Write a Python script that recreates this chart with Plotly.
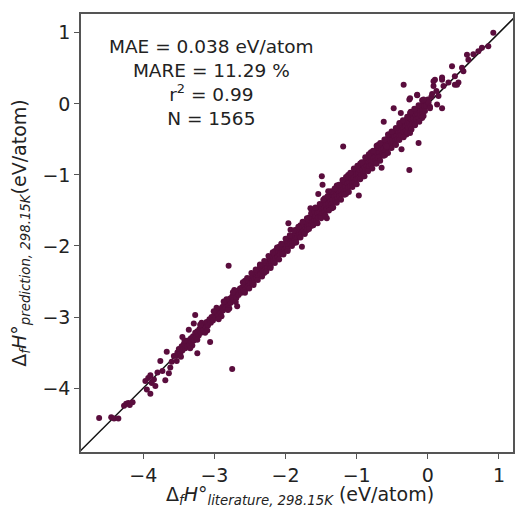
import plotly.graph_objects as go

# (literature, prediction) pairs in eV/atom
pts_low_tail = [(-4.62, -4.42), (-4.45, -4.41), (-4.41, -4.43), (-4.35, -4.43), (-4.27, -4.25),
                (-4.24, -4.22), (-4.21, -4.21), (-4.19, -4.24), (-4.15, -4.20),
                (-3.97, -3.90), (-3.95, -4.02), (-3.93, -3.86), (-3.90, -3.82), (-3.90, -4.08),
                (-3.88, -3.93), (-3.85, -3.88), (-3.83, -3.97), (-3.80, -3.78), (-3.76, -3.62),
                (-3.73, -3.76), (-3.69, -3.89), (-3.67, -3.49), (-3.64, -3.79), (-3.62, -3.71),
                (-3.60, -3.63), (-3.57, -3.55), (-3.53, -3.62), (-3.53, -3.54)]

pts_lower_band = [(-3.52, -3.50), (-3.50, -3.45), (-3.48, -3.52), (-3.46, -3.41), (-3.45, -3.47),
                  (-3.43, -3.38), (-3.41, -3.44), (-3.40, -3.36), (-3.38, -3.41), (-3.37, -3.33),
                  (-3.35, -3.39), (-3.33, -3.30), (-3.32, -3.35), (-3.30, -3.27), (-3.29, -3.33),
                  (-3.27, -3.22), (-3.26, -3.29), (-3.24, -3.20), (-3.22, -3.26), (-3.21, -3.17),
                  (-3.19, -3.22), (-3.17, -3.13), (-3.16, -3.19), (-3.14, -3.10), (-3.12, -3.15),
                  (-3.11, -3.07), (-3.09, -3.12), (-3.07, -3.03), (-3.05, -3.08), (-3.04, -3.00),
                  (-3.02, -3.05), (-3.00, -2.97), (-2.98, -3.01), (-2.96, -2.92), (-2.95, -2.98),
                  (-2.93, -2.89), (-2.91, -2.94), (-2.89, -2.86), (-2.88, -2.91), (-2.86, -2.82),
                  (-2.84, -2.87), (-2.82, -2.79), (-2.80, -2.84), (-2.78, -2.74), (-2.77, -2.80),
                  (-2.75, -2.71), (-2.73, -2.76), (-2.71, -2.67), (-2.69, -2.73), (-2.67, -2.63),
                  (-2.66, -2.69), (-3.47, -3.56), (-3.31, -3.40), (-3.18, -3.08), (-3.10, -3.19),
                  (-2.97, -2.87), (-2.90, -2.99), (-2.83, -2.75), (-2.72, -2.62), (-2.79, -2.88),
                  (-3.45, -3.28), (-3.36, -3.18), (-3.29, -3.09), (-3.27, -2.97), (-3.24, -3.32),
                  (-3.24, -3.51), (-3.06, -3.35), (-2.68, -2.85),
                  (-3.42, -3.33), (-3.34, -3.44), (-3.20, -3.11), (-3.13, -3.22), (-3.01, -2.92),
                  (-2.94, -3.03), (-2.87, -2.78), (-2.81, -2.90), (-2.74, -2.65), (-2.70, -2.79)]

pts_mid_band = [(-2.64, -2.60), (-2.62, -2.66), (-2.61, -2.58), (-2.59, -2.63), (-2.58, -2.55),
                (-2.56, -2.61), (-2.55, -2.50), (-2.53, -2.57), (-2.52, -2.49), (-2.50, -2.54),
                (-2.49, -2.45), (-2.47, -2.52), (-2.46, -2.43), (-2.44, -2.48), (-2.43, -2.39),
                (-2.41, -2.46), (-2.40, -2.37), (-2.38, -2.42), (-2.37, -2.33), (-2.35, -2.40),
                (-2.34, -2.31), (-2.32, -2.36), (-2.31, -2.27), (-2.29, -2.33), (-2.28, -2.24),
                (-2.26, -2.31), (-2.25, -2.21), (-2.23, -2.28), (-2.22, -2.18), (-2.20, -2.24),
                (-2.19, -2.15), (-2.17, -2.22), (-2.16, -2.12), (-2.14, -2.18), (-2.13, -2.09),
                (-2.11, -2.16), (-2.10, -2.06), (-2.08, -2.12), (-2.07, -2.03), (-2.05, -2.10),
                (-2.04, -2.00), (-2.02, -2.06), (-2.01, -1.97), (-1.99, -2.04), (-1.98, -1.93),
                (-1.96, -2.00), (-1.95, -1.90), (-1.93, -1.98), (-1.92, -1.88), (-1.90, -1.95),
                (-1.89, -1.85), (-1.87, -1.91), (-1.86, -1.82), (-1.84, -1.89), (-1.83, -1.79),
                (-1.81, -1.85), (-1.80, -1.76), (-1.78, -1.83), (-1.77, -1.73), (-1.75, -1.80),
                (-1.74, -1.70), (-1.72, -1.76), (-1.71, -1.67), (-1.69, -1.74), (-1.68, -1.64),
                (-1.66, -1.71), (-1.65, -1.61), (-1.63, -1.68), (-1.62, -1.58), (-1.60, -1.65),
                (-2.57, -2.49), (-2.45, -2.53), (-2.36, -2.28), (-2.21, -2.29), (-2.09, -2.01),
                (-2.03, -2.11), (-1.94, -1.86), (-1.88, -1.96), (-1.79, -1.71), (-1.73, -1.81),
                (-1.67, -1.60), (-1.64, -1.72), (-2.30, -2.38), (-2.15, -2.07), (-1.97, -2.05),
                (-1.85, -1.77), (-1.70, -1.78), (-1.96, -1.68), (-1.93, -1.77), (-1.77, -2.01),
                (-1.65, -1.47), (-1.42, -1.61), (-2.80, -2.28),
                (-2.60, -2.51), (-2.54, -2.45), (-2.48, -2.38), (-2.42, -2.33), (-2.36, -2.26),
                (-2.30, -2.21), (-2.24, -2.14), (-2.18, -2.09), (-2.12, -2.02), (-2.06, -1.97),
                (-2.00, -1.90), (-1.94, -1.85), (-1.88, -1.78), (-1.82, -1.73), (-1.76, -1.66),
                (-1.70, -1.61), (-1.64, -1.54),
                (-2.57, -2.66), (-2.51, -2.60), (-2.45, -2.55), (-2.39, -2.48), (-2.33, -2.43),
                (-2.27, -2.36), (-2.21, -2.31), (-2.15, -2.24), (-2.09, -2.19), (-2.03, -2.12),
                (-1.97, -2.07), (-1.91, -2.00), (-1.85, -1.95), (-1.79, -1.88), (-1.73, -1.83),
                (-1.67, -1.76), (-1.61, -1.71)]

pts_upper_band = [(-1.59, -1.52), (-1.56, -1.48), (-1.53, -1.46), (-1.50, -1.44), (-1.47, -1.39),
                  (-1.44, -1.37), (-1.41, -1.35), (-1.38, -1.30), (-1.35, -1.28), (-1.32, -1.26),
                  (-1.29, -1.21), (-1.26, -1.19), (-1.23, -1.16), (-1.20, -1.12), (-1.17, -1.10),
                  (-1.14, -1.07), (-1.11, -1.03), (-1.08, -1.00), (-1.05, -0.98), (-1.02, -0.94),
                  (-0.99, -0.91), (-0.96, -0.89), (-0.93, -0.85), (-0.90, -0.82), (-0.87, -0.80),
                  (-0.84, -0.76), (-0.81, -0.73), (-0.78, -0.71), (-0.75, -0.67), (-0.72, -0.64),
                  (-0.69, -0.62), (-0.66, -0.58), (-0.63, -0.55), (-0.60, -0.53), (-0.57, -0.49),
                  (-0.54, -0.46), (-0.51, -0.44), (-0.48, -0.40), (-0.45, -0.37), (-0.42, -0.35),
                  (-0.39, -0.31), (-0.36, -0.28), (-0.33, -0.26), (-0.30, -0.22), (-0.27, -0.19),
                  (-0.24, -0.17), (-0.21, -0.13), (-0.18, -0.10), (-0.15, -0.08), (-0.12, -0.05),
                  (-0.09, -0.02), (-0.06, 0.01), (-0.03, 0.03), (0.00, 0.06),
                  (-1.58, -1.59), (-1.55, -1.54), (-1.52, -1.53), (-1.49, -1.48), (-1.46, -1.47),
                  (-1.43, -1.42), (-1.40, -1.41), (-1.37, -1.36), (-1.34, -1.35), (-1.31, -1.30),
                  (-1.28, -1.29), (-1.25, -1.24), (-1.22, -1.23), (-1.19, -1.18), (-1.16, -1.17),
                  (-1.13, -1.12), (-1.10, -1.11), (-1.07, -1.06), (-1.04, -1.05), (-1.01, -1.00),
                  (-0.98, -0.99), (-0.95, -0.94), (-0.92, -0.93), (-0.89, -0.88), (-0.86, -0.87),
                  (-0.83, -0.82), (-0.80, -0.81), (-0.77, -0.76), (-0.74, -0.75), (-0.71, -0.70),
                  (-0.68, -0.69), (-0.65, -0.64), (-0.62, -0.63), (-0.59, -0.58), (-0.56, -0.57),
                  (-0.53, -0.52), (-0.50, -0.51), (-0.47, -0.46), (-0.44, -0.45), (-0.41, -0.40),
                  (-0.38, -0.39), (-0.35, -0.34), (-0.32, -0.33), (-0.29, -0.28), (-0.26, -0.27),
                  (-0.23, -0.22), (-0.20, -0.21), (-0.17, -0.16), (-0.14, -0.15), (-0.11, -0.10),
                  (-0.08, -0.09), (-0.05, -0.04), (-0.02, -0.03), (0.01, 0.02),
                  (-1.57, -1.64), (-1.54, -1.60), (-1.51, -1.58), (-1.48, -1.54), (-1.45, -1.52),
                  (-1.42, -1.48), (-1.39, -1.46), (-1.36, -1.42), (-1.33, -1.40), (-1.30, -1.36),
                  (-1.27, -1.34), (-1.24, -1.30), (-1.21, -1.28), (-1.18, -1.24), (-1.15, -1.22),
                  (-1.12, -1.18), (-1.09, -1.16), (-1.06, -1.12), (-1.03, -1.10), (-1.00, -1.06),
                  (-0.97, -1.04), (-0.94, -1.00), (-0.91, -0.98), (-0.88, -0.94), (-0.85, -0.92),
                  (-0.82, -0.88), (-0.79, -0.86), (-0.76, -0.82), (-0.73, -0.80), (-0.70, -0.76),
                  (-0.67, -0.74), (-0.64, -0.70), (-0.61, -0.68), (-0.58, -0.64), (-0.55, -0.62),
                  (-0.52, -0.58), (-0.49, -0.56), (-0.46, -0.52), (-0.43, -0.50), (-0.40, -0.46),
                  (-0.37, -0.44), (-0.34, -0.40), (-0.31, -0.38), (-0.28, -0.34), (-0.25, -0.32),
                  (-0.22, -0.28), (-0.19, -0.26), (-0.16, -0.22), (-0.13, -0.20), (-0.10, -0.16),
                  (-0.07, -0.14), (-0.04, -0.10),
                  (-1.45, -1.33), (-1.28, -1.15), (-1.12, -1.00), (-0.95, -0.84), (-0.80, -0.68),
                  (-0.70, -0.58), (-0.55, -0.43), (-0.40, -0.29), (-0.25, -0.13), (-1.35, -1.47),
                  (-1.15, -1.27), (-0.90, -1.02), (-0.72, -0.84), (-0.60, -0.72), (-0.45, -0.57),
                  (-0.30, -0.43), (-0.18, -0.30), (-0.08, -0.20), (0.03, -0.04), (0.05, 0.10),
                  (-1.58, -1.46), (-1.52, -1.41), (-1.47, -1.35), (-1.41, -1.30), (-1.36, -1.23),
                  (-1.31, -1.19), (-1.25, -1.14), (-1.20, -1.07), (-1.15, -1.03), (-1.09, -0.97),
                  (-1.04, -0.91), (-0.99, -0.87), (-0.93, -0.82), (-0.88, -0.75), (-0.83, -0.71),
                  (-0.77, -0.66), (-0.72, -0.59), (-0.67, -0.55), (-0.61, -0.50), (-0.56, -0.43),
                  (-0.51, -0.39), (-0.45, -0.34), (-0.40, -0.27), (-0.35, -0.23), (-0.29, -0.18),
                  (-0.24, -0.11), (-0.19, -0.07), (-0.13, -0.02), (-0.08, 0.05),
                  (-1.55, -1.68), (-1.50, -1.61), (-1.44, -1.57), (-1.39, -1.50), (-1.33, -1.46),
                  (-1.28, -1.39), (-1.22, -1.35), (-1.17, -1.28), (-1.11, -1.24), (-1.06, -1.17),
                  (-1.00, -1.13), (-0.95, -1.06), (-0.89, -1.02), (-0.84, -0.95), (-0.78, -0.91),
                  (-0.73, -0.84), (-0.67, -0.80), (-0.62, -0.73), (-0.56, -0.69), (-0.51, -0.62),
                  (-0.45, -0.58), (-0.40, -0.51), (-0.34, -0.47), (-0.29, -0.40), (-0.23, -0.36),
                  (-0.18, -0.29), (-0.12, -0.25), (-0.06, -0.17)]

pts_outliers = [(-1.49, -1.02), (-1.48, -1.14), (-1.54, -1.27), (-1.40, -1.23), (-0.97, -1.29),
                (-1.19, -0.60), (-0.26, -0.93), (-0.62, -0.25), (-0.48, -0.06), (-0.38, -0.13),
                (-0.34, 0.27), (-0.26, 0.06), (-0.15, 0.12), (-0.13, -0.55), (-0.37, -0.64),
                (-0.65, -0.90), (-0.25, -0.41), (-0.58, -0.60), (-2.75, -3.73)]

pts_high_tail = [(0.92, 1.00), (0.85, 0.81), (0.76, 0.79), (0.71, 0.74), (0.64, 0.70),
                 (0.55, 0.69), (0.57, 0.62), (0.34, 0.53), (0.48, 0.51), (0.50, 0.46),
                 (0.38, 0.39), (0.43, 0.30), (0.20, 0.37), (0.10, 0.34), (0.08, 0.25),
                 (0.22, 0.25), (0.29, 0.30), (-0.15, 0.13), (-0.25, 0.08), (-0.06, 0.06),
                 (0.15, 0.11), (0.13, -0.01), (0.03, -0.06), (0.20, -0.06), (0.41, 0.27),
                 (0.08, 0.32), (0.20, 0.34), (0.38, 0.27), (0.06, 0.14), (0.12, 0.18)]

identity_line = [-5.0, 1.3]

groups = [pts_low_tail, pts_lower_band, pts_mid_band, pts_upper_band, pts_outliers, pts_high_tail]
lit = [p[0] for g in groups for p in g]
pred = [p[1] for g in groups for p in g]

FONT = "DejaVu Sans"
TXT = "#222222"
fig = go.Figure()
fig.add_trace(go.Scatter(x=identity_line, y=identity_line, mode="lines",
                         line=dict(color="#111111", width=1.5), showlegend=False, hoverinfo="skip"))
fig.add_trace(go.Scatter(x=lit, y=pred, mode="markers",
                         marker=dict(size=6, color="#5a0d3d", line=dict(width=0)),
                         showlegend=False, hoverinfo="skip"))

axis_common = dict(showgrid=False, zeroline=False, showline=True, mirror=True, automargin=False,
                   linecolor="#555555", linewidth=1.5, ticks="outside", ticklen=5,
                   tickcolor="#555555", tickwidth=1.2,
                   tickfont=dict(family=FONT, size=19, color=TXT))

fig.update_xaxes(range=[-4.875, 1.197], tickvals=[-4, -3, -2, -1, 0, 1], **axis_common)
fig.update_yaxes(range=[-4.90, 1.265], tickvals=[-4, -3, -2, -1, 0, 1], **axis_common)

fig.add_annotation(xref="paper", yref="paper", x=0.3025, y=0.843, xanchor="center", yanchor="middle",
                   showarrow=False, align="center",
                   text="MAE = 0.038 eV/atom<br>MARE = 11.29 %<br>r<sup>2</sup> = 0.99<br>N = 1565",
                   font=dict(family=FONT, size=18.5, color=TXT))
fig.add_annotation(xref="paper", yref="paper", x=0.507, y=-0.100, xanchor="center", yanchor="middle",
                   showarrow=False,
                   text="Δ<sub><i>f</i></sub><i>H</i>°<sub><i>literature, 298.15K</i></sub> (eV/atom)",
                   font=dict(family=FONT, size=19, color=TXT))
fig.add_annotation(xref="paper", yref="paper", x=-0.142, y=0.5, xanchor="center", yanchor="middle",
                   showarrow=False, textangle=-90,
                   text="Δ<sub><i>f</i></sub><i>H</i>°<sub><i>prediction, 298.15K</i></sub>(eV/atom)",
                   font=dict(family=FONT, size=19, color=TXT))

# the page body adds an 8px offset, so the margins are shifted by that amount
fig.update_layout(width=523, height=508, margin=dict(l=73, r=18, t=6, b=64),
                  paper_bgcolor="white", plot_bgcolor="white")
fig.write_html("out.html")
